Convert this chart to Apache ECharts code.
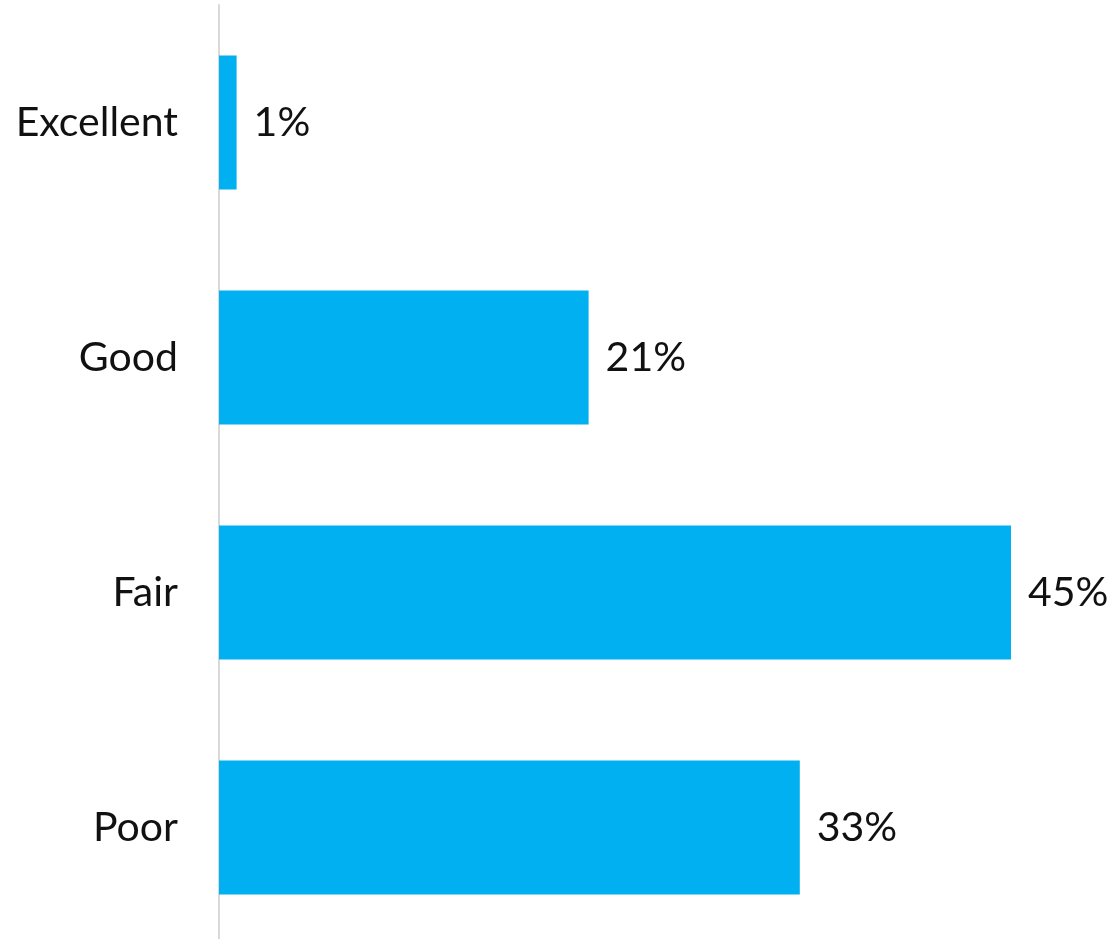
<!DOCTYPE html>
<html>
<head>
<meta charset="utf-8">
<script src="https://cdn.jsdelivr.net/npm/echarts@6/dist/echarts.min.js"></script>
<style>
  html, body { margin: 0; padding: 0; background: #ffffff; }
  #chart { width: 1118px; height: 939px; }
</style>
</head>
<body>
<div id="chart"></div>
<script>
// Self-rated condition, share of responses (%)
const categories = ['Excellent', 'Good', 'Fair', 'Poor'];
const shares = [1, 21, 45, 33];

const FONT = '"Source Sans Pro", Lato, "Noto Sans", sans-serif';

const chart = echarts.init(document.getElementById('chart'), null, { renderer: 'canvas' });
chart.setOption({
  animation: false,
  backgroundColor: '#ffffff',
  grid: {
    left: 219, width: 792, top: 5, height: 940,
    containLabel: false,
    outerBoundsMode: 'none'
  },
  xAxis: {
    type: 'value',
    min: 0,
    max: 45,
    show: false
  },
  yAxis: {
    type: 'category',
    inverse: true,
    data: categories,
    axisLine: { show: true, lineStyle: { color: '#d9d9d9', width: 2 } },
    axisTick: { show: false },
    axisLabel: {
      margin: 41,
      color: '#111111',
      fontFamily: FONT,
      fontSize: 41
    },
    splitLine: { show: false }
  },
  series: [{
    type: 'bar',
    data: shares,
    barCategoryGap: '43%',
    itemStyle: { color: '#00b0f0' },
    label: {
      show: true,
      position: 'right',
      distance: 17,
      formatter: p => p.value + '%',
      color: '#111111',
      fontFamily: FONT,
      fontSize: 41
    }
  }]
});
</script>
</body>
</html>
